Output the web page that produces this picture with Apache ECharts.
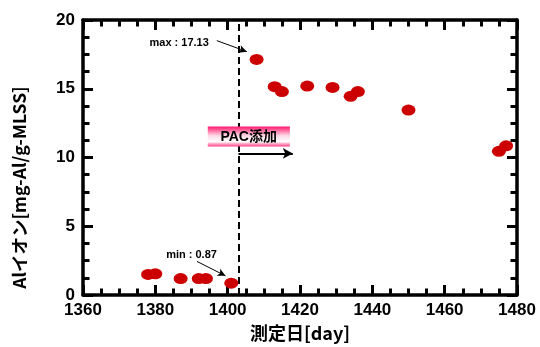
<!DOCTYPE html>
<html><head><meta charset="utf-8">
<script src="https://cdn.jsdelivr.net/npm/echarts@6/dist/echarts.min.js"></script>
<style>html,body{margin:0;padding:0;background:#fff}#c{width:540px;height:347px}</style>
</head><body><div id="c"></div>
<script>
const days = [1378, 1380, 1387, 1392, 1394, 1401, 1408, 1413, 1415, 1422, 1429, 1434, 1436, 1450, 1475, 1477];
const alIon = [1.5, 1.55, 1.2, 1.2, 1.2, 0.87, 17.13, 15.15, 14.8, 15.2, 15.1, 14.45, 14.8, 13.45, 10.45, 10.85];
const xTicks = [1360, 1480, 20];
const yTicks = [0, 20, 5];
const pacDay = 1403;
const xName = '測定日[day]';
const yName = 'Alイオン[mg-Al/g-MLSS]';

const numFont = () => ({fontFamily: 'Liberation Sans', fontWeight: 'bold', fontSize: 17, color: '#000', formatter: v => String(v)});
const axisLine = () => ({show: true, onZero: false, lineStyle: {color: '#000', width: 3.5}});
const tick = () => ({show: true, inside: true, length: 10, lineStyle: {color: '#000', width: 3}});
const minor = () => ({show: true, splitNumber: 4, length: 6.5, lineStyle: {color: '#000', width: 3}});

const chart = echarts.init(document.getElementById('c'));
chart.setOption({
  animation: false,
  grid: {left: 83, right: 23, top: 20, bottom: 50.5},
  xAxis: [{
    type: 'value', position: 'bottom', min: xTicks[0], max: xTicks[1], interval: xTicks[2],
    axisLine: axisLine(), axisTick: tick(), minorTick: minor(), splitLine: {show: false}, minorSplitLine: {show: false},
    axisLabel: Object.assign({margin: 7}, numFont()),
    name: xName, nameLocation: 'middle', nameGap: 27,
    nameTextStyle: {fontFamily: 'Noto Sans CJK JP', fontWeight: 'bold', fontSize: 18, color: '#000'}
  }, {
    type: 'value', position: 'top', min: xTicks[0], max: xTicks[1], interval: xTicks[2],
    axisLine: axisLine(), axisTick: tick(), minorTick: minor(), splitLine: {show: false}, axisLabel: {show: false}
  }],
  yAxis: [{
    type: 'value', position: 'left', min: yTicks[0], max: yTicks[1], interval: yTicks[2],
    axisLine: axisLine(), axisTick: tick(), minorTick: minor(), splitLine: {show: false},
    axisLabel: Object.assign({margin: 8}, numFont()),
    name: yName, nameLocation: 'middle', nameGap: 55, nameRotate: 90,
    nameTextStyle: {fontFamily: 'Noto Sans CJK JP', fontWeight: 'bold', fontSize: 17.5, color: '#000', padding: [0, 60, 0, 0]}
  }, {
    type: 'value', position: 'right', min: yTicks[0], max: yTicks[1], interval: yTicks[2],
    axisLine: axisLine(), axisTick: tick(), minorTick: minor(), splitLine: {show: false}, axisLabel: {show: false}
  }],
  series: [{
    type: 'scatter', xAxisIndex: 0, yAxisIndex: 0,
    data: days.map((d, i) => [d, alIon[i]]),
    symbol: 'circle', symbolSize: [14, 11],
    itemStyle: {color: '#cc0000', opacity: 1}, z: 5
  }, {
    type: 'line', data: [], xAxisIndex: 0, yAxisIndex: 0,
    markLine: {
      silent: true, symbol: ['none', 'none'], label: {show: false},
      lineStyle: {color: '#000', width: 2, type: [7, 4]},
      data: [{xAxis: pacDay}]
    }
  }, {
    type: 'line', data: [], xAxisIndex: 0, yAxisIndex: 0,
    markLine: {
      silent: true, symbol: ['none', 'arrow'], symbolSize: [6, 8], label: {show: false},
      lineStyle: {color: '#000', width: 1, type: 'solid'},
      data: [
        [{coord: [1397, 18.5]}, {coord: [1405.3, 17.7]}],
        [{coord: [1391.5, 2.45]}, {coord: [1399.4, 1.4]}]
      ]
    }
  }, {
    type: 'line', data: [], xAxisIndex: 0, yAxisIndex: 0,
    markLine: {
      silent: true, symbol: ['none', 'arrow'], symbolSize: [8, 10], label: {show: false},
      lineStyle: {color: '#000', width: 2, type: 'solid'},
      data: [[{coord: [pacDay, 10.3]}, {coord: [1418, 10.3]}]]
    }
  }]
});

const P = (d, v) => chart.convertToPixel({xAxisIndex: 0, yAxisIndex: 0}, [d, v]);
const a = P(1394.5, 12.25), b = P(1417.2, 10.8);
const mx = P(1394.8, 18.3), mn = P(1390, 2.95), pt = P(1405.8, 11.5);
chart.setOption({
  graphic: [
    {type: 'rect', shape: {x: a[0], y: a[1], width: b[0] - a[0], height: b[1] - a[1]},
     style: {fill: new echarts.graphic.LinearGradient(0, 0, 0, 1, [
       {offset: 0, color: '#ff1a6e'}, {offset: 0.45, color: '#ffd6e4'},
       {offset: 0.75, color: '#ffffff'}, {offset: 1, color: '#ff3c84'}])}, z: 10},
    {type: 'text', x: pt[0], y: pt[1], z: 11,
     style: {text: 'PAC添加', font: 'bold 14px "Liberation Sans", "Noto Sans CJK JP"', fill: '#000', align: 'center', verticalAlign: 'middle'}},
    {type: 'text', x: mx[0], y: mx[1], z: 11,
     style: {text: 'max : 17.13', font: 'bold 11px "Liberation Sans"', fill: '#000', align: 'right', verticalAlign: 'middle'}},
    {type: 'text', x: mn[0], y: mn[1], z: 11,
     style: {text: 'min : 0.87', font: 'bold 11px "Liberation Sans"', fill: '#000', align: 'center', verticalAlign: 'middle'}}
  ]
});
</script></body></html>
